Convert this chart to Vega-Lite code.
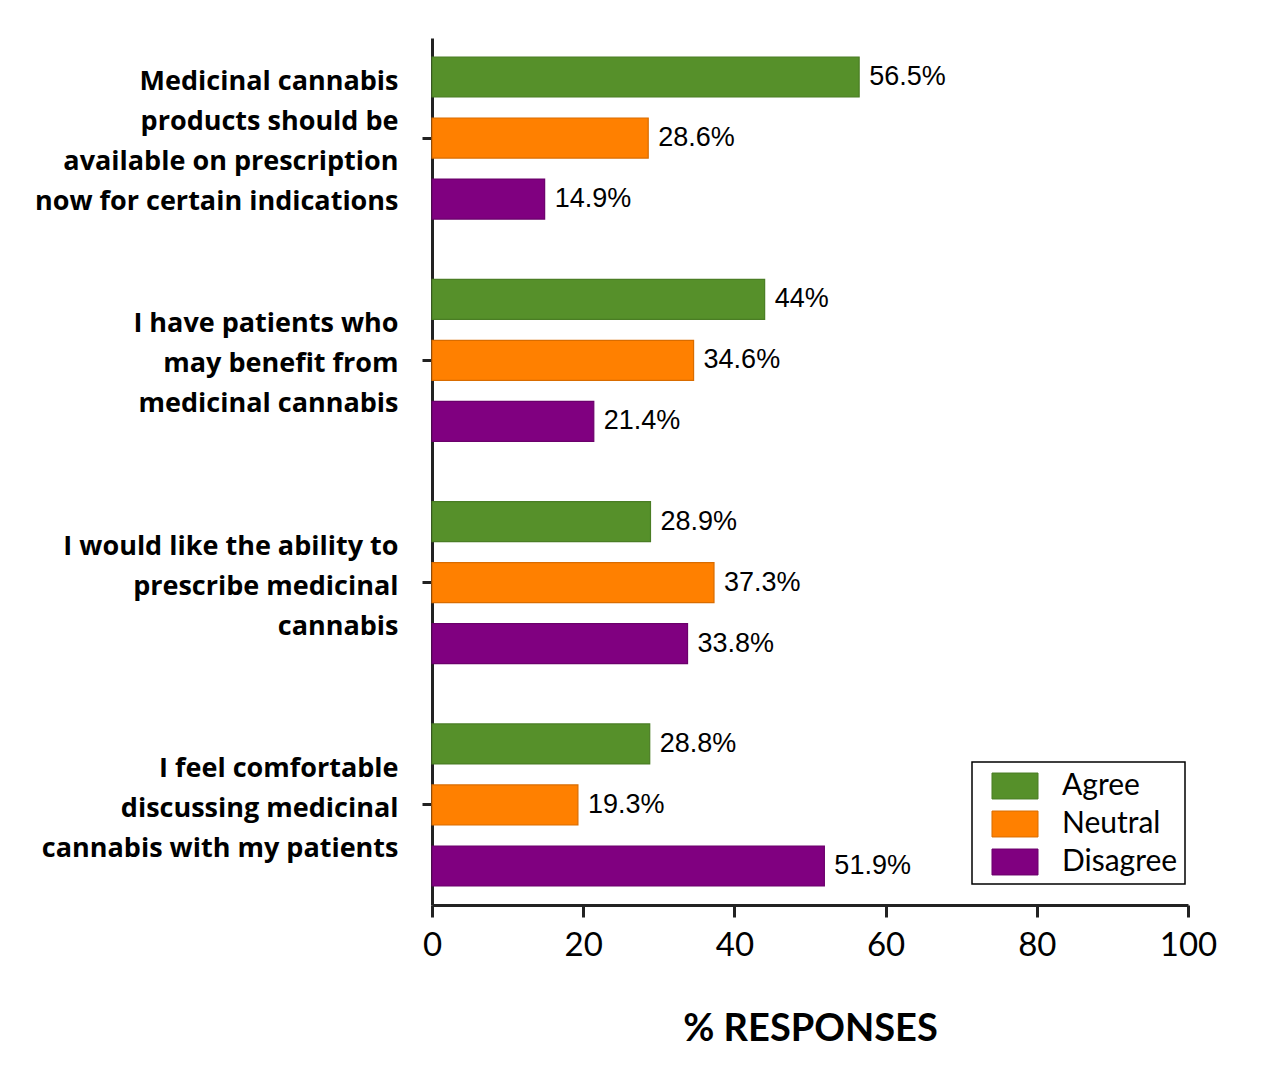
{
  "$schema": "https://vega.github.io/schema/vega-lite/v6.json",
  "width": 756,
  "height": 867,
  "autosize": {"type": "none"},
  "padding": {"left": 432, "top": 38, "right": 92, "bottom": 162},
  "background": "white",
  "config": {"view": {"stroke": null}},
  "data": {
    "values": [
      {"statement": "Medicinal cannabis|products should be|available on prescription|now for certain indications", "response": "Agree", "pct": 56.5, "text": "56.5%"},
      {"statement": "Medicinal cannabis|products should be|available on prescription|now for certain indications", "response": "Neutral", "pct": 28.6, "text": "28.6%"},
      {"statement": "Medicinal cannabis|products should be|available on prescription|now for certain indications", "response": "Disagree", "pct": 14.9, "text": "14.9%"},
      {"statement": "I have patients who|may benefit from|medicinal cannabis", "response": "Agree", "pct": 44, "text": "44%"},
      {"statement": "I have patients who|may benefit from|medicinal cannabis", "response": "Neutral", "pct": 34.6, "text": "34.6%"},
      {"statement": "I have patients who|may benefit from|medicinal cannabis", "response": "Disagree", "pct": 21.4, "text": "21.4%"},
      {"statement": "I would like the ability to|prescribe medicinal|cannabis", "response": "Agree", "pct": 28.9, "text": "28.9%"},
      {"statement": "I would like the ability to|prescribe medicinal|cannabis", "response": "Neutral", "pct": 37.3, "text": "37.3%"},
      {"statement": "I would like the ability to|prescribe medicinal|cannabis", "response": "Disagree", "pct": 33.8, "text": "33.8%"},
      {"statement": "I feel comfortable|discussing medicinal|cannabis with my patients", "response": "Agree", "pct": 28.8, "text": "28.8%"},
      {"statement": "I feel comfortable|discussing medicinal|cannabis with my patients", "response": "Neutral", "pct": 19.3, "text": "19.3%"},
      {"statement": "I feel comfortable|discussing medicinal|cannabis with my patients", "response": "Disagree", "pct": 51.9, "text": "51.9%"}
    ]
  },
  "encoding": {
    "y": {
      "field": "statement",
      "type": "nominal",
      "sort": null,
      "scale": {"paddingInner": 0.1, "paddingOuter": 0},
      "axis": {
        "title": null,
        "labelExpr": "split(datum.value, '|')",
        "labelFont": "Open Sans",
        "labelFontWeight": "bold",
        "labelFontSize": 27,
        "labelLineHeight": 40,
        "labelColor": "black",
        "labelPadding": 24,
        "labelLimit": 500,
        "labelOffset": {"expr": "indexof(datum.value, 'Medicinal') == 0 ? -56 : -36"},
        "tickSize": 10,
        "tickWidth": 3,
        "tickColor": "#222",
        "domainWidth": 3,
        "domainColor": "#222"
      }
    },
    "yOffset": {
      "field": "response",
      "type": "nominal",
      "sort": ["Agree", "Neutral", "Disagree"],
      "scale": {"paddingInner": 0.344, "paddingOuter": 0.311}
    },
    "x": {
      "field": "pct",
      "type": "quantitative",
      "scale": {"domain": [0, 100], "nice": false},
      "axis": {
        "title": "% RESPONSES",
        "titleFont": "Lato",
        "titleFontWeight": "bold",
        "titleFontSize": 38,
        "titleColor": "black",
        "titlePadding": 48,
        "values": [0, 20, 40, 60, 80, 100],
        "grid": false,
        "labelFont": "Lato",
        "labelFontSize": 33,
        "labelColor": "black",
        "labelPadding": 12,
        "labelFlush": false,
        "tickSize": 12,
        "tickWidth": 3,
        "tickColor": "#222",
        "domainWidth": 3,
        "domainColor": "#222"
      }
    }
  },
  "layer": [
    {
      "mark": {"type": "bar", "strokeWidth": 1.2},
      "encoding": {
        "color": {
          "field": "response",
          "type": "nominal",
          "sort": ["Agree", "Neutral", "Disagree"],
          "scale": {"domain": ["Agree", "Neutral", "Disagree"], "range": ["#56902a", "#ff8000", "#800080"]},
          "legend": {
            "title": null,
            "orient": "none",
            "legendX": 540,
            "legendY": 724,
            "strokeColor": "black",
            "padding": 7,
            "symbolType": "M-1.4,-0.79H1.4V0.79H-1.4Z",
            "symbolSize": 1080,
            "symbolOffset": 19,
            "symbolStrokeWidth": 1,
            "symbolOpacity": 1,
            "labelFont": "Lato",
            "labelFontSize": 30,
            "labelColor": "black",
            "labelOffset": 30,
            "rowPadding": 6,
            "encode": {"legend": {"update": {"strokeWidth": {"value": 1.5}}}}
          }
        },
        "stroke": {
          "field": "response",
          "type": "nominal",
          "scale": {"domain": ["Agree", "Neutral", "Disagree"], "range": ["#4a7d24", "#d96c00", "#6b006b"]},
          "legend": null
        }
      }
    },
    {
      "mark": {"type": "text", "align": "left", "baseline": "middle", "dx": 10, "font": "Liberation Sans", "fontSize": 27, "color": "black"},
      "encoding": {
        "text": {"field": "text", "type": "nominal"}
      }
    }
  ]
}
